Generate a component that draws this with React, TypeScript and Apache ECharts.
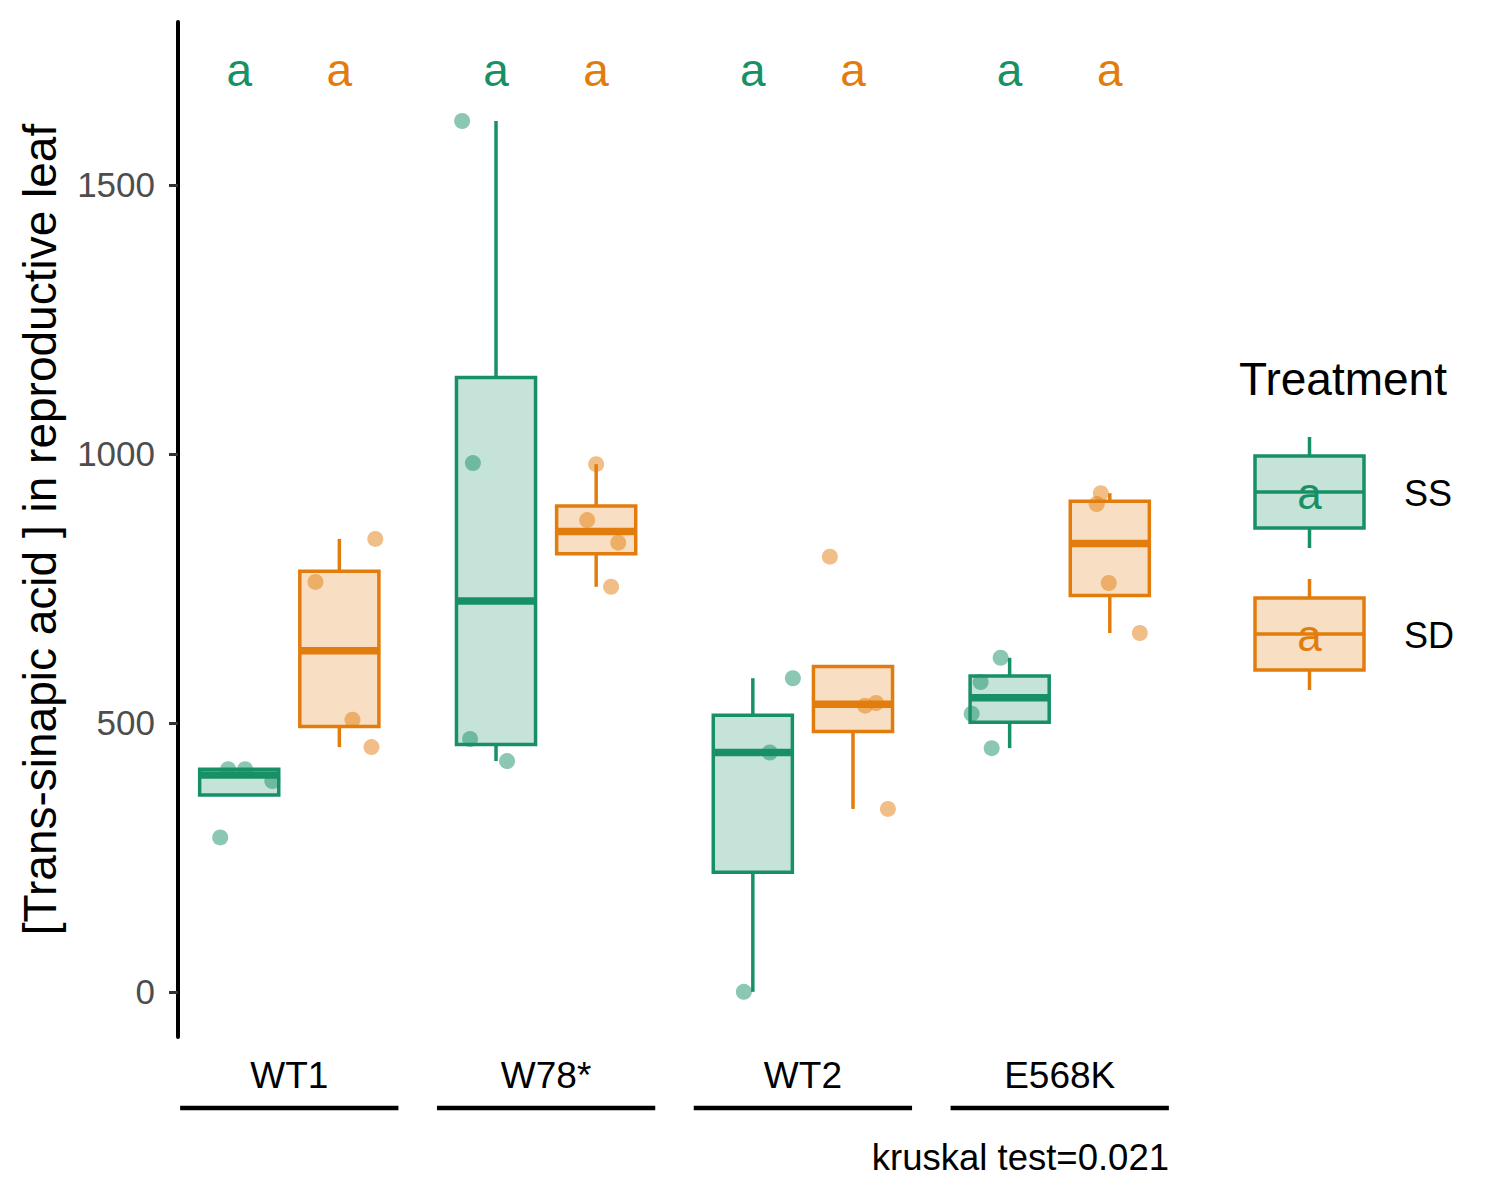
import React, { useEffect, useRef } from "react";
import * as echarts from "echarts";

// ---------- data ----------
const categories = ["WT1", "W78*", "WT2", "E568K"];
const treatments = ["SS", "SD"];
const ssValues = [
  [414, 414, 392, 287],
  [1619, 983, 470, 429],
  [0, 445, 583],
  [621, 576, 517, 453],
];
const ssJitter = [
  [-0.043, 0.023, 0.129, -0.074],
  [-0.132, -0.09, -0.101, 0.043],
  [-0.035, 0.066, 0.156],
  [-0.035, -0.113, -0.148, -0.07],
];
const sdValues = [
  [762, 842, 506, 455],
  [981, 877, 835, 753],
  [809, 532, 537, 340],
  [927, 907, 760, 667],
];
const sdJitter = [
  [-0.093, 0.14, 0.051, 0.125],
  [0, -0.035, 0.086, 0.058],
  [-0.09, 0.047, 0.09, 0.136],
  [-0.035, -0.051, -0.004, 0.117],
];
const ssLetters = ["a", "a", "a", "a"];
const sdLetters = ["a", "a", "a", "a"];
const letterY = 1713;
const yTicks = [0, 500, 1000, 1500];
const yTitle = "[Trans-sinapic acid ] in reproductive leaf";
const legendTitle = "Treatment";
const kruskalLabel = "kruskal test=0.021";

// ---------- styles ----------
const FONT = "'Liberation Sans', Arial, Helvetica, sans-serif";
const GREEN = "#189066";
const ORANGE = "#E27D0D";
const GREEN_FILL = "rgba(24,144,102,0.25)";
const ORANGE_FILL = "rgba(226,125,13,0.25)";
const DODGE = 0.195;
const BOX_W = 0.308;
const X_MIN = 0.5667;
const X_MAX = 4.4333;
const Y_MIN = -84;
const Y_MAX = 1803;

function quantile(sorted: number[], p: number) {
  const h = (sorted.length - 1) * p;
  const lo = Math.floor(h);
  const hi = Math.ceil(h);
  return sorted[lo] + (h - lo) * (sorted[hi] - sorted[lo]);
}

function boxStats(values: number[]) {
  const s = [...values].sort((a, b) => a - b);
  const q1 = quantile(s, 0.25);
  const med = quantile(s, 0.5);
  const q3 = quantile(s, 0.75);
  const iqr = q3 - q1;
  const inside = s.filter((v) => v >= q1 - 1.5 * iqr && v <= q3 + 1.5 * iqr);
  const lo = Math.min(q1, ...inside);
  const hi = Math.max(q3, ...inside);
  return [lo, q1, med, q3, hi];
}

function boxRenderer(color: string, fill: string) {
  return (params: any, api: any) => {
    const x = api.value(0);
    const lo = api.value(1);
    const q1 = api.value(2);
    const med = api.value(3);
    const q3 = api.value(4);
    const hi = api.value(5);
    const h = BOX_W / 2;
    const tl = api.coord([x - h, q3]);
    const br = api.coord([x + h, q1]);
    const pHi = api.coord([x, hi]);
    const pLo = api.coord([x, lo]);
    const pQ3 = api.coord([x, q3]);
    const pQ1 = api.coord([x, q1]);
    const mL = api.coord([x - h, med]);
    const mR = api.coord([x + h, med]);
    const lw = 3.5;
    return {
      type: "group",
      children: [
        {
          type: "line",
          shape: { x1: pHi[0], y1: pHi[1], x2: pQ3[0], y2: pQ3[1] },
          style: { stroke: color, lineWidth: lw },
        },
        {
          type: "line",
          shape: { x1: pLo[0], y1: pLo[1], x2: pQ1[0], y2: pQ1[1] },
          style: { stroke: color, lineWidth: lw },
        },
        {
          type: "rect",
          shape: { x: tl[0], y: tl[1], width: br[0] - tl[0], height: br[1] - tl[1] },
          style: { fill, stroke: color, lineWidth: lw },
        },
        {
          type: "line",
          shape: { x1: mL[0], y1: mL[1], x2: mR[0], y2: mR[1] },
          style: { stroke: color, lineWidth: 7.5 },
        },
      ],
    };
  };
}

function letterRenderer(color: string, letters: string[]) {
  return (params: any, api: any) => {
    const p = api.coord([api.value(0), api.value(1)]);
    return {
      type: "text",
      x: p[0],
      y: p[1],
      style: {
        text: letters[params.dataIndex],
        fill: color,
        fontSize: 46,
        fontFamily: FONT,
        align: "center",
        verticalAlign: "middle",
        textAlign: "center",
        textVerticalAlign: "middle",
      },
    };
  };
}

function txt(text: string, x: number, y: number, size: number, color: string, align = "left") {
  return {
    type: "text",
    x,
    y,
    silent: true,
    style: {
      text,
      fill: color,
      fontSize: size,
      fontFamily: FONT,
      align,
      verticalAlign: "middle",
      textAlign: align,
      textVerticalAlign: "middle",
    },
  };
}

function legendKey(color: string, fill: string, label: string, top: number) {
  const left = 1255;
  const w = 109;
  const h = 72;
  const cx = left + w / 2;
  const mid = top + h / 2;
  return [
    { type: "line", silent: true, shape: { x1: cx, y1: top - 19, x2: cx, y2: top }, style: { stroke: color, lineWidth: 3.5 } },
    { type: "line", silent: true, shape: { x1: cx, y1: top + h, x2: cx, y2: top + h + 20 }, style: { stroke: color, lineWidth: 3.5 } },
    { type: "rect", silent: true, shape: { x: left, y: top, width: w, height: h }, style: { fill, stroke: color, lineWidth: 3.5 } },
    { type: "line", silent: true, shape: { x1: left, y1: mid, x2: left + w, y2: mid }, style: { stroke: color, lineWidth: 3.5 } },
    txt("a", cx, mid + 1, 44, color, "center"),
    txt(label, 1404, mid + 1, 36, "#000"),
  ];
}

export default function App() {
  const ref = useRef<HTMLDivElement>(null);

  useEffect(() => {
    document.body.style.margin = "0";
    if (!ref.current) return;
    const chart = echarts.init(ref.current, null, { renderer: "svg" });

    const groups = [
      { name: treatments[0], values: ssValues, jitter: ssJitter, letters: ssLetters, color: GREEN, fill: GREEN_FILL, off: -DODGE },
      { name: treatments[1], values: sdValues, jitter: sdJitter, letters: sdLetters, color: ORANGE, fill: ORANGE_FILL, off: DODGE },
    ];

    const boxSeries = groups.map((g) => ({
      type: "custom",
      name: g.name + " box",
      silent: true,
      clip: false,
      renderItem: boxRenderer(g.color, g.fill),
      encode: { x: 0, y: [1, 2, 3, 4, 5] },
      data: g.values.map((vals, i) => [i + 1 + g.off, ...boxStats(vals)]),
      z: 2,
    }));

    const pointSeries = groups.map((g) => ({
      type: "scatter",
      name: g.name,
      silent: true,
      symbol: "circle",
      symbolSize: 16,
      itemStyle: { color: g.color, opacity: 0.5 },
      data: g.values.flatMap((vals, i) => vals.map((v, j) => [i + 1 + g.off + g.jitter[i][j], v])),
      z: 3,
    }));

    const letterSeries = groups.map((g) => ({
      type: "custom",
      name: g.name + " letters",
      silent: true,
      clip: false,
      renderItem: letterRenderer(g.color, g.letters),
      encode: { x: 0, y: 1 },
      data: categories.map((_, i) => [i + 1 + g.off, letterY]),
      z: 4,
    }));

    const categorySeries = {
      type: "custom",
      name: "categories",
      silent: true,
      clip: false,
      encode: { x: 0, y: 1 },
      data: categories.map((_, i) => [i + 1, Y_MIN]),
      renderItem: (params: any, api: any) => {
        const x = api.value(0);
        const base = api.coord([x, api.value(1)]);
        const l = api.coord([x - 0.425, api.value(1)]);
        const r = api.coord([x + 0.425, api.value(1)]);
        return {
          type: "group",
          children: [
            {
              type: "line",
              shape: { x1: l[0], y1: base[1] + 71, x2: r[0], y2: base[1] + 71 },
              style: { stroke: "#000", lineWidth: 4.5 },
            },
            {
              type: "text",
              x: base[0],
              y: base[1] + 38,
              style: {
                text: categories[params.dataIndex],
                fill: "#000",
                fontSize: 37,
                fontFamily: FONT,
                align: "center",
                verticalAlign: "middle",
                textAlign: "center",
                textVerticalAlign: "middle",
              },
            },
          ],
        };
      },
    };

    chart.setOption({
      animation: false,
      backgroundColor: "#fff",
      textStyle: { fontFamily: FONT },
      grid: { left: 178, right: 329, top: 22, bottom: 163 },
      xAxis: {
        type: "value",
        min: X_MIN,
        max: X_MAX,
        show: false,
        splitLine: { show: false },
      },
      yAxis: {
        type: "value",
        min: Y_MIN,
        max: Y_MAX,
        name: yTitle,
        nameLocation: "middle",
        nameRotate: 90,
        nameGap: 115,
        nameTextStyle: { fontSize: 46, color: "#000", fontFamily: FONT },
        axisLine: { show: true, lineStyle: { color: "#000", width: 4 } },
        axisTick: { show: true, length: 9, lineStyle: { color: "#333", width: 3 }, customValues: yTicks },
        axisLabel: {
          customValues: yTicks,
          fontSize: 35,
          color: "#4D4D4D",
          fontFamily: FONT,
          margin: 23,
          formatter: (v: number) => String(v),
        },
        splitLine: { show: false },
      },
      graphic: [
        txt(legendTitle, 1239, 379, 46, "#000"),
        ...legendKey(GREEN, GREEN_FILL, treatments[0], 456),
        ...legendKey(ORANGE, ORANGE_FILL, treatments[1], 598),
        txt(kruskalLabel, 1169, 1157, 36.5, "#000", "right"),
      ],
      series: [...boxSeries, ...pointSeries, ...letterSeries, categorySeries],
    });

    return () => chart.dispose();
  }, []);

  return <div ref={ref} style={{ width: 1500, height: 1200 }} />;
}
